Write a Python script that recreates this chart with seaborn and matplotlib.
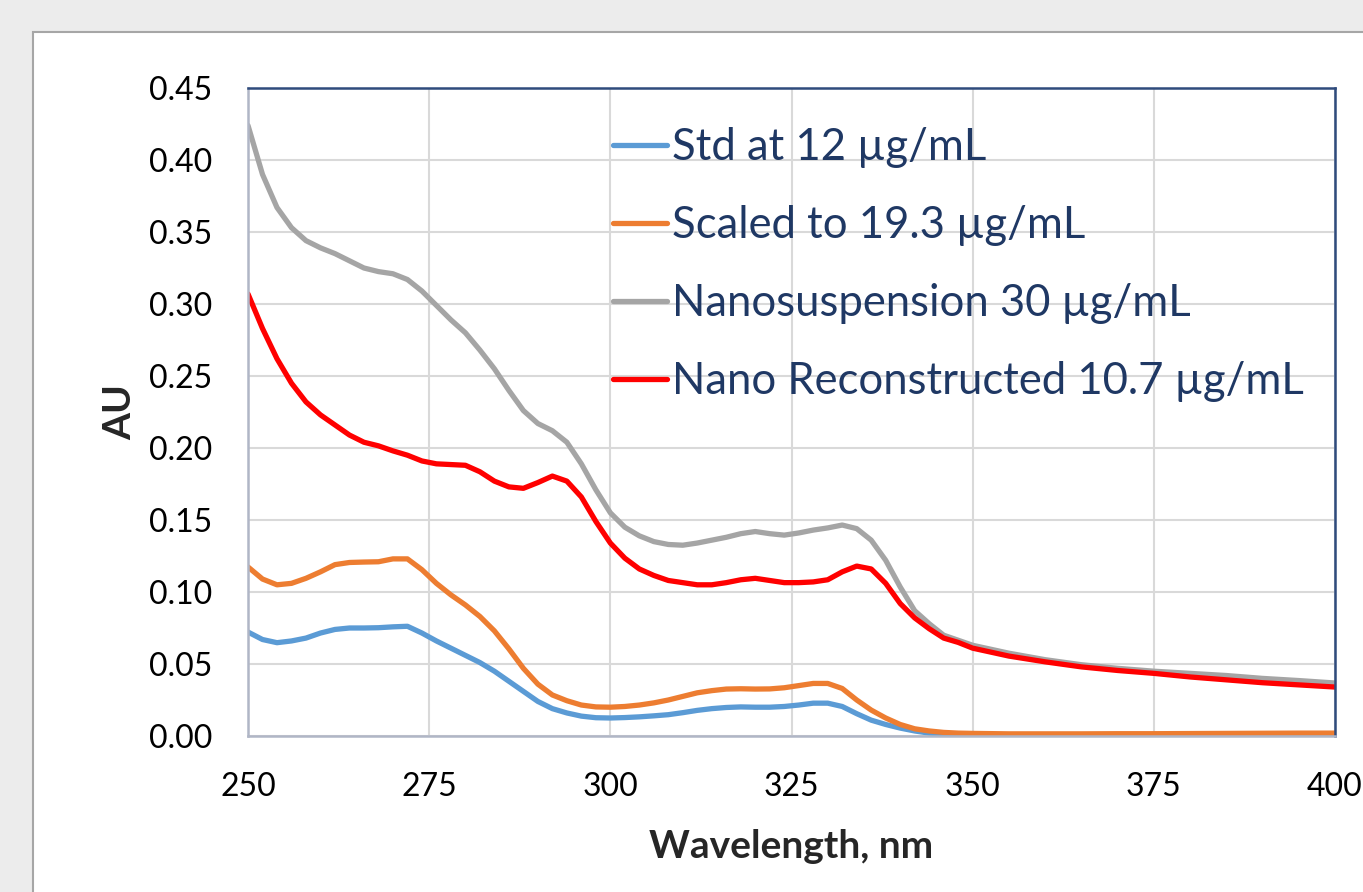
import matplotlib.pyplot as plt
import pandas as pd
import seaborn as sns
from matplotlib.patches import Rectangle

wavelength = [250, 252, 254, 256, 258, 260, 262, 264, 266, 268, 270, 272, 274, 276, 278,
              280, 282, 284, 286, 288, 290, 292, 294, 296, 298, 300, 302, 304, 306, 308,
              310, 312, 314, 316, 318, 320, 322, 324, 326, 328, 330, 332, 334, 336, 338,
              340, 342, 344, 346, 348, 350, 355, 360, 365, 370, 375, 380, 385, 390, 395, 400]

std_12 = [0.0722, 0.067, 0.0648, 0.066, 0.068, 0.0715, 0.074, 0.075, 0.075, 0.0752, 0.0758,
          0.0762, 0.0715, 0.066, 0.061, 0.056, 0.051, 0.045, 0.038, 0.031, 0.024, 0.019,
          0.016, 0.0138, 0.0127, 0.0125, 0.0128, 0.0133, 0.014, 0.0148, 0.0162, 0.0178,
          0.019, 0.0198, 0.0202, 0.020, 0.020, 0.0205, 0.0215, 0.0228, 0.0228, 0.0205,
          0.0155, 0.011, 0.008, 0.0055, 0.0035, 0.002, 0.0013, 0.001, 0.0008, 0.0008,
          0.0008, 0.0008, 0.0009, 0.0009, 0.001, 0.001, 0.0012, 0.0013, 0.0015]

scaled_19 = [0.1174, 0.109, 0.105, 0.106, 0.1095, 0.114, 0.119, 0.1205, 0.1208, 0.121,
             0.123, 0.123, 0.1155, 0.106, 0.098, 0.091, 0.083, 0.073, 0.0605, 0.047, 0.036,
             0.0285, 0.0245, 0.0215, 0.0202, 0.020, 0.0205, 0.0215, 0.023, 0.025, 0.0275,
             0.030, 0.0315, 0.0326, 0.0328, 0.0326, 0.0327, 0.0335, 0.035, 0.0365, 0.0365,
             0.033, 0.025, 0.018, 0.0125, 0.008, 0.005, 0.0035, 0.0025, 0.002, 0.0018,
             0.0015, 0.0015, 0.0015, 0.0016, 0.0016, 0.0017, 0.0018, 0.0019, 0.002, 0.002]

nanosusp_30 = [0.424, 0.390, 0.367, 0.353, 0.344, 0.339, 0.335, 0.330, 0.325, 0.3225,
               0.321, 0.317, 0.309, 0.299, 0.289, 0.280, 0.268, 0.255, 0.240, 0.226, 0.217,
               0.212, 0.204, 0.189, 0.171, 0.155, 0.145, 0.139, 0.135, 0.133, 0.1325, 0.134,
               0.136, 0.138, 0.1405, 0.142, 0.1405, 0.1395, 0.141, 0.143, 0.1445, 0.1465,
               0.144, 0.136, 0.122, 0.1035, 0.087, 0.078, 0.070, 0.0665, 0.063, 0.0575,
               0.053, 0.0495, 0.047, 0.045, 0.0435, 0.042, 0.040, 0.0385, 0.0368]

nano_recon = [0.307, 0.283, 0.262, 0.245, 0.232, 0.223, 0.216, 0.209, 0.204, 0.2015, 0.198,
              0.195, 0.191, 0.189, 0.1885, 0.188, 0.1835, 0.177, 0.173, 0.172, 0.176, 0.1805,
              0.177, 0.166, 0.149, 0.134, 0.1235, 0.116, 0.1115, 0.108, 0.1065, 0.105, 0.105,
              0.1065, 0.1085, 0.1095, 0.108, 0.1065, 0.1065, 0.107, 0.1085, 0.114, 0.118,
              0.116, 0.106, 0.092, 0.082, 0.0745, 0.068, 0.065, 0.061, 0.0555, 0.0515, 0.048,
              0.0455, 0.0435, 0.041, 0.039, 0.037, 0.0355, 0.034]

series_names = ["Std at 12 µg/mL", "Scaled to 19.3 µg/mL",
                "Nanosuspension 30 µg/mL", "Nano Reconstructed 10.7 µg/mL"]
series_colors = ["#5B9BD5", "#ED7D31", "#A5A5A5", "#FF0000"]

frames = []
for name, values in zip(series_names, [std_12, scaled_19, nanosusp_30, nano_recon]):
    frames.append(pd.DataFrame({"wavelength": wavelength, "AU": values, "series": name}))
df = pd.concat(frames, ignore_index=True)

sns.set_style("white")
plt.rcParams["font.family"] = ["Lato", "DejaVu Sans"]

fig = plt.figure(figsize=(13.63, 8.92), dpi=100, facecolor="#ececec")
# white chart area with grey border, running off the right and bottom edges
fig.patches.append(Rectangle((33 / 1363, -0.1), 1.2, (892 - 32) / 892 + 0.1,
                             transform=fig.transFigure, facecolor="white",
                             edgecolor="#a6a6a6", linewidth=1.5, zorder=-10))

ax = fig.add_axes([248 / 1363, 156 / 892, 1087 / 1363, 648 / 892])
ax.set_facecolor("white")

sns.lineplot(data=df, x="wavelength", y="AU", hue="series", hue_order=series_names,
             palette=series_colors, linewidth=3.8, ax=ax, legend=False)
for line in ax.get_lines():
    line.set_solid_joinstyle("round")
    line.set_solid_capstyle("round")

ax.set_xlim(250, 400)
ax.set_ylim(0, 0.45)
ax.set_xticks([250, 275, 300, 325, 350, 375, 400])
ax.set_yticks([i * 0.05 for i in range(10)])
ax.set_yticklabels([f"{i * 0.05:.2f}" for i in range(10)])
ax.grid(True, color="#d9d9d9", linewidth=1.5)
ax.set_axisbelow(True)
ax.tick_params(axis="both", length=0, labelsize=23, pad=26, labelcolor="black")

for side in ["top", "right"]:
    ax.spines[side].set_color("#2F4B7C")
    ax.spines[side].set_linewidth(1.8)
for side in ["left", "bottom"]:
    ax.spines[side].set_color("#b0b6c6")
    ax.spines[side].set_linewidth(1.8)

ax.set_xlabel("Wavelength, nm", fontsize=28, fontweight="bold", labelpad=19)
ax.set_ylabel("AU", fontsize=28, fontweight="bold", labelpad=8)

handles = [plt.Line2D([], [], color=c, linewidth=3.8) for c in series_colors]
ax.legend(handles, series_names, loc="upper left", bbox_to_anchor=(0.30, 1.0),
          frameon=False, fontsize=31.4, handlelength=1.24, handletextpad=0.11,
          labelspacing=0.85, labelcolor="#1F3864")

fig.savefig("out.png", dpi=100, facecolor=fig.get_facecolor())
